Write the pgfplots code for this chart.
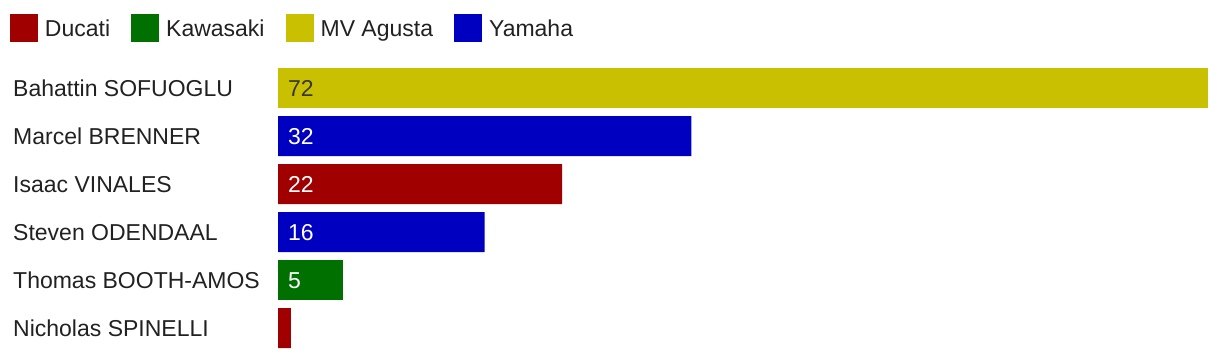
\documentclass[border=0pt]{standalone}
\usepackage{pgfplots}
\pgfplotsset{compat=1.18}
\usepackage{fontspec}
\setmainfont{Liberation Sans}

\definecolor{ducati}{RGB}{160,0,0}
\definecolor{kawasaki}{RGB}{0,112,0}
\definecolor{mvagusta}{RGB}{200,192,0}
\definecolor{yamaha}{RGB}{0,0,192}
\definecolor{txt}{RGB}{33,33,33}

\newcommand{\chartfont}{\fontsize{23pt}{27pt}\selectfont}

\pgfplotsset{
  teambar/.style={
    xbar, bar width=40pt, bar shift=0pt, draw=none, fill=#1,
    legend image code/.code={\fill[#1] (0pt,-14pt) rectangle (28pt,14pt);},
  },
  barlabel/.style={
    draw=none, mark=none, forget plot,
    nodes near coords, point meta=explicit symbolic,
    every node near coord/.append style={
      anchor=west, xshift=10pt, inner sep=0pt,
      text height=16.4pt, text depth=0pt, text=#1, font=\chartfont},
  },
}

\begin{document}
\chartfont
\begin{tikzpicture}
\useasboundingbox (0,0) rectangle (1220pt,360pt);
\begin{axis}[
  at={(278pt,8pt)}, anchor=south west,
  scale only axis, width=930pt, height=288pt,
  xmin=0, xmax=72, ymin=-0.5, ymax=5.5, y dir=reverse,
  axis line style={draw=none},
  xtick=\empty,
  ytick={0,1,2,3,4,5},
  yticklabels={Bahattin SOFUOGLU, Marcel BRENNER, Isaac VINALES,
    Steven ODENDAAL, Thomas BOOTH-AMOS, Nicholas SPINELLI},
  major tick length=0pt, ytick style={draw=none},
  yticklabel style={anchor=west, xshift=-265pt, inner sep=0pt,
    text height=16.4pt, text depth=0pt, text=txt, font=\chartfont},
  clip=false,
  legend columns=4,
  legend style={
    at={(-0.28817,1.1736)}, anchor=north west,
    draw=none, fill=none, inner sep=0pt, outer sep=0pt,
    font=\chartfont, text=txt,
    nodes={inner sep=0pt, text height=16.4pt, text depth=0pt},
    /tikz/every odd column/.append style={column sep=7pt},
    /tikz/every even column/.append style={column sep=21pt},
  },
]
% Ducati
\addplot[teambar=ducati] coordinates {(22,2) (1,5)};
% Kawasaki
\addplot[teambar=kawasaki] coordinates {(5,4)};
% MV Agusta
\addplot[teambar=mvagusta] coordinates {(72,0)};
% Yamaha
\addplot[teambar=yamaha] coordinates {(32,1) (16,3)};
\legend{Ducati, Kawasaki, MV Agusta, Yamaha}

% value labels at the start of each bar
\addplot[barlabel={txt!90}] coordinates {(0,0) [72]};
\addplot[barlabel=white] coordinates {(0,1) [32] (0,2) [22] (0,3) [16] (0,4) [5]};
\end{axis}
\end{tikzpicture}
\end{document}
